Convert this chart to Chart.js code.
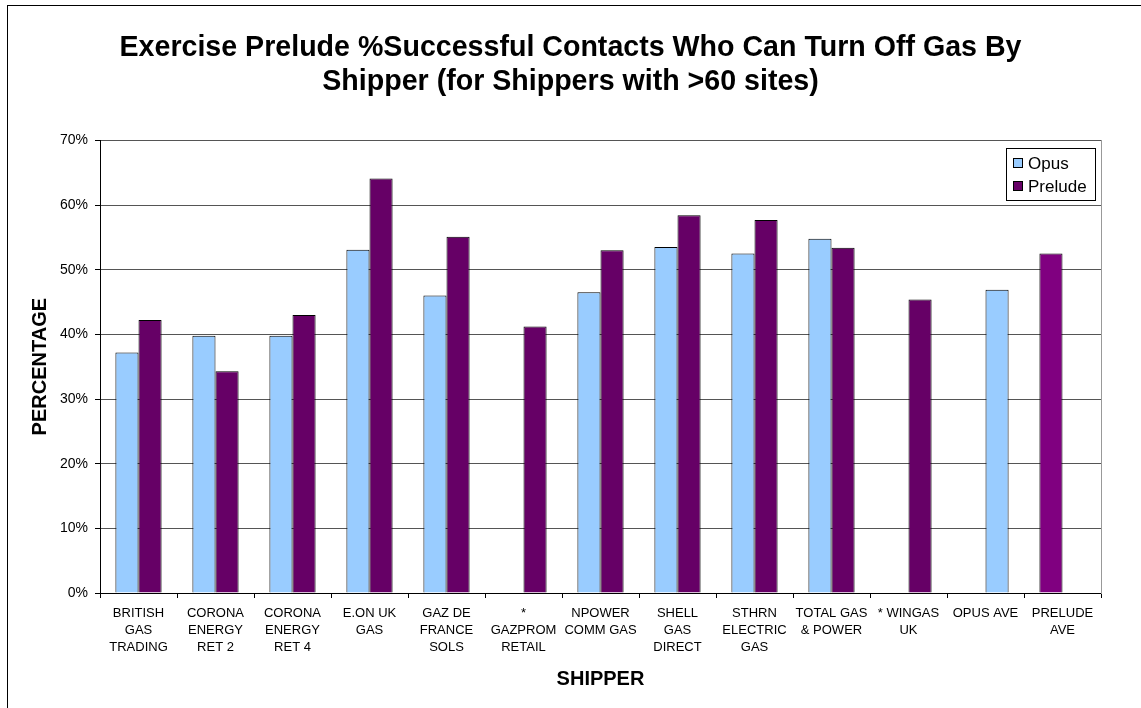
<!DOCTYPE html>
<html>
<head>
<meta charset="utf-8">
<script src="https://cdn.jsdelivr.net/npm/chart.js@4.4.0/dist/chart.umd.min.js"></script>
<style>
  html, body { margin: 0; padding: 0; background: #fff; }
  #frame { position: absolute; left: 7px; top: 5px; width: 1200px; height: 800px;
           border-left: 1px solid #000; border-top: 1px solid #000; }
  #wrap { position: absolute; left: 0; top: 0; width: 1141px; height: 708px; }
</style>
</head>
<body>
<div id="frame"></div>
<div id="wrap"><canvas id="chart" width="1141" height="708"></canvas></div>
<script>
// data
var shippers = [
  ["BRITISH", "GAS", "TRADING"],
  ["CORONA", "ENERGY", "RET 2"],
  ["CORONA", "ENERGY", "RET 4"],
  ["E.ON UK", "GAS"],
  ["GAZ DE", "FRANCE", "SOLS"],
  ["*", "GAZPROM", "RETAIL"],
  ["NPOWER", "COMM GAS"],
  ["SHELL", "GAS", "DIRECT"],
  ["STHRN", "ELECTRIC", "GAS"],
  ["TOTAL GAS", "& POWER"],
  ["* WINGAS", "UK"],
  ["OPUS AVE"],
  ["PRELUDE", "AVE"]
];
var seriesNames = ["Opus", "Prelude"];
var opus    = [37.2, 39.8, 39.8, 53.1, 46.0, null, 46.5, 53.5, 52.5, 54.8, null, null, 52.5];
var prelude = [42.2, 34.3, 43.0, 64.1, 55.1, 41.2, 53.0, 58.4, 57.7, 53.4, 45.4, 46.9, null];
var yTicks = [0, 10, 20, 30, 40, 50, 60, 70];
var titleLines = ["Exercise Prelude %Successful Contacts Who Can Turn Off Gas By",
                  "Shipper (for Shippers with >60 sites)"];

var OPUS_COL = '#99CCFF', PRELUDE_COL = '#660066', AVE_COL = '#800080';
// the average points are formatted individually (as in the original sheet)
var opusColors = opus.map(function (v, i) { return i === 12 ? AVE_COL : OPUS_COL; });
var preludeColors = prelude.map(function (v, i) { return i === 11 ? OPUS_COL : PRELUDE_COL; });

Chart.defaults.font.family = '"Liberation Sans", Arial, sans-serif';
Chart.defaults.color = '#000';

// legend box inside the plot, like the excel one
var boxLegend = {
  id: 'boxLegend',
  afterDraw: function (chart) {
    var c = chart.ctx;
    var x = 1006.5, y = 148.5, w = 89, h = 52;
    c.save();
    c.fillStyle = '#fff';
    c.fillRect(x, y, w, h);
    c.strokeStyle = '#000';
    c.lineWidth = 1;
    c.strokeRect(x, y, w, h);
    var cols = [OPUS_COL, PRELUDE_COL];
    c.font = '17px "Liberation Sans", Arial, sans-serif';
    c.textBaseline = 'middle';
    seriesNames.forEach(function (name, i) {
      var cy = 163 + i * 23;
      c.fillStyle = cols[i];
      c.fillRect(1013.5, cy - 4.5, 9, 9);
      c.strokeRect(1013.5, cy - 4.5, 9, 9);
      c.fillStyle = '#000';
      c.fillText(name, 1028, cy + 1);
    });
    c.restore();
  }
};

var ctx = document.getElementById('chart').getContext('2d');
var chart = new Chart(ctx, {
  type: 'bar',
  data: {
    labels: shippers,
    datasets: [
      { label: seriesNames[0], data: opus, backgroundColor: opusColors,
        borderColor: '#000', borderWidth: 1 },
      { label: seriesNames[1], data: prelude, backgroundColor: preludeColors,
        borderColor: '#000', borderWidth: 1 }
    ]
  },
  options: {
    responsive: false,
    animation: false,
    events: [],
    layout: { padding: 0 },
    datasets: { bar: { categoryPercentage: 0.6, barPercentage: 1.0 } },
    plugins: {
      legend: { display: false },
      tooltip: { enabled: false },
      title: {
        display: true,
        text: titleLines,
        color: '#000',
        font: { size: 28.6, weight: 'bold', lineHeight: 1.16 },
        padding: { top: 32, bottom: 42 }
      }
    },
    scales: {
      x: {
        grid: { drawOnChartArea: false, tickLength: 5, tickColor: '#000', offset: true },
        border: { color: '#000' },
        ticks: { color: '#000', font: { size: 13, lineHeight: 1.3 }, padding: 7, maxRotation: 0, autoSkip: false },
        title: { display: true, text: 'SHIPPER', color: '#000',
                 font: { size: 20, weight: 'bold' }, padding: { bottom: 17 } },
        afterFit: function (s) { s.height = 115; }
      },
      y: {
        min: 0, max: 70,
        afterBuildTicks: function (s) { s.ticks = yTicks.map(function (v) { return { value: v }; }); },
        ticks: { color: '#000', font: { size: 14 }, padding: 7,
                 callback: function (v) { return v + '%'; } },
        grid: { color: '#555', tickLength: 5, tickColor: '#000' },
        border: { color: '#000' },
        title: { display: true, text: 'PERCENTAGE', color: '#000',
                 font: { size: 20, weight: 'bold' }, padding: { top: 28 } },
        afterFit: function (s) { s.width = 100; }
      },
      yr: {
        position: 'right',
        min: 0, max: 70,
        ticks: { display: false },
        grid: { drawOnChartArea: false, drawTicks: false },
        border: { color: '#999' },
        afterFit: function (s) { s.width = 40; }
      }
    }
  },
  plugins: [boxLegend]
});
</script>
</body>
</html>
